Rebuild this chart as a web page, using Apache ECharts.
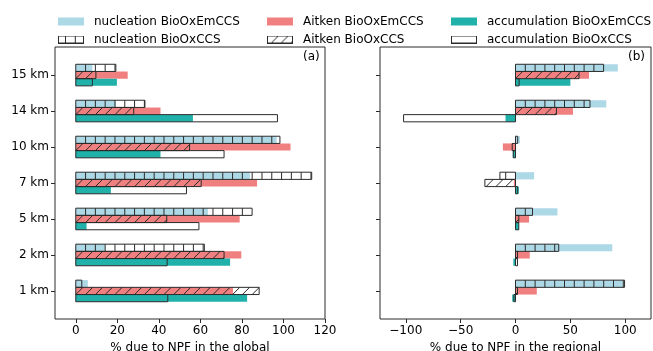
<!DOCTYPE html>
<html>
<head>
<meta charset="utf-8">
<script src="https://cdn.jsdelivr.net/npm/echarts@6/dist/echarts.min.js"></script>
<style>
html, body {margin: 0; background: #fff;}
#main {width: 653px; height: 351px;}
</style>
</head>
<body>
<div id="main"></div>
<script>
// categories, bottom to top
const altitudes = ['1 km', '2 km', '5 km', '7 km', '10 km', '14 km', '15 km'];
const kinds = ['nucleation', 'Aitken', 'accumulation'];

// (a) % due to NPF in the global
const nucEmGlobal  = [5.8, 14.0, 63.6, 83.8, 96.7, 19.3, 8.0];
const nucCcsGlobal = [2.9, 61.9, 84.9, 113.6, 98.3, 33.3, 19.3];
const aitEmGlobal  = [75.7, 79.7, 78.9, 87.3, 103.4, 40.8, 25.0];
const aitCcsGlobal = [88.3, 71.4, 43.8, 60.4, 54.8, 27.9, 9.7];
const accEmGlobal  = [82.5, 74.3, 5.2, 16.9, 40.8, 56.4, 19.8];
const accCcsGlobal = [44.3, 44.0, 59.3, 53.3, 71.4, 97.1, 8.0];

// (b) % due to NPF in the regional
const nucEmRegional  = [97.9, 88.2, 38.2, 17.0, 4.0, 82.7, 93.3];
const nucCcsRegional = [99.4, 39.4, 15.5, -14.2, 2.0, 67.9, 80.3];
const aitEmRegional  = [19.4, 13.0, 12.4, -1.5, -11.5, 52.4, 67.0];
const aitCcsRegional = [1.8, 1.8, 3.0, -27.9, -3.0, 37.3, 57.9];
const accEmRegional  = [-3.0, -2.0, 3.0, 3.0, -2.5, -9.1, 50.0];
const accCcsRegional = [-1.5, 1.8, 3.0, 2.0, -2.0, -102.0, 3.3];

const xTicksGlobal = [0, 20, 40, 60, 80, 100, 120];
const xTicksRegional = [-100, -50, 0, 50, 100];
const yTicks = [0, 1, 2, 3, 4, 5, 6];

const colors = {nucleation: '#add8e6', Aitken: '#f08080', accumulation: '#20b2aa'};
const hatches = {nucleation: 'vline', Aitken: 'slash', accumulation: 'none'};
const rowOffset = {nucleation: 0.2, Aitken: 0, accumulation: -0.2};
const barH = 0.2;
const hatchStep = 9.8;
const edge = '#2b2b2b';

function hatchLines(type, x0, xa, xb, yt, yb) {
    let out = [];
    let h = yb - yt;
    if (type === 'vline') {
        let k0 = Math.ceil((xa - x0) / hatchStep);
        for (let x = x0 + k0 * hatchStep; x < xb - 0.5; x += hatchStep) {
            if (x <= xa + 0.5) continue;
            out.push({type: 'line', shape: {x1: x, y1: yt, x2: x, y2: yb},
                style: {stroke: edge, lineWidth: 1}});
        }
    } else if (type === 'slash') {
        let k0 = Math.floor((xa - h - x0) / hatchStep);
        for (let c = x0 + k0 * hatchStep; c < xb; c += hatchStep) {
            let t0 = Math.max(0, (xa - c) / h);
            let t1 = Math.min(1, (xb - c) / h);
            if (t1 <= t0) continue;
            out.push({type: 'line', shape: {
                x1: c + t0 * h, y1: yb - t0 * h, x2: c + t1 * h, y2: yb - t1 * h},
                style: {stroke: edge, lineWidth: 1}});
        }
    }
    return out;
}

function makeRender(kind, filled) {
    return function (params, api) {
        let v = api.value(0);
        let yc = api.value(1);
        let p0 = api.coord([0, yc + barH / 2]);
        let p1 = api.coord([v, yc - barH / 2]);
        let xa = Math.min(p0[0], p1[0]), xb = Math.max(p0[0], p1[0]);
        let yt = p0[1], yb = p1[1];
        let rect = {type: 'rect', shape: {x: xa, y: yt, width: xb - xa, height: yb - yt}};
        if (filled) {
            rect.style = {fill: colors[kind]};
            return rect;
        }
        rect.style = {fill: 'none', stroke: edge, lineWidth: 1};
        let x0 = api.coord([0, 0])[0];
        return {type: 'group', children: hatchLines(hatches[kind], x0, xa, xb, yt, yb).concat([rect])};
    };
}

function hatchIcon(kind, w, h) {
    let c = document.createElement('canvas');
    c.width = w; c.height = h;
    let ctx = c.getContext('2d');
    ctx.strokeStyle = edge;
    ctx.lineWidth = 1;
    ctx.beginPath();
    if (hatches[kind] === 'vline') {
        for (let x = 7.5; x < w - 1; x += hatchStep) { ctx.moveTo(x, 0); ctx.lineTo(x, h); }
    } else if (hatches[kind] === 'slash') {
        for (let x = 2; x < w + h; x += hatchStep) { ctx.moveTo(x - h, h); ctx.lineTo(x, 0); }
    }
    ctx.stroke();
    ctx.strokeRect(0.5, 0.5, w - 1, h - 1);
    return 'image://' + c.toDataURL();
}

const panels = [
    {em: [nucEmGlobal, aitEmGlobal, accEmGlobal], ccs: [nucCcsGlobal, aitCcsGlobal, accCcsGlobal]},
    {em: [nucEmRegional, aitEmRegional, accEmRegional], ccs: [nucCcsRegional, aitCcsRegional, accCcsRegional]}
];

let series = [];
for (let filled of [true, false]) {
    panels.forEach((panel, p) => {
        kinds.forEach((kind, k) => {
            let vals = filled ? panel.em[k] : panel.ccs[k];
            series.push({
                type: 'custom',
                name: kind + (filled ? ' BioOxEmCCS' : ' BioOxCCS'),
                xAxisIndex: p,
                yAxisIndex: p,
                itemStyle: {color: filled ? colors[kind] : '#fff'},
                renderItem: makeRender(kind, filled),
                data: vals.map((v, i) => [v, i + rowOffset[kind]])
            });
        });
    });
}

const legendPos = [[58, 15.5], [267, 15.5], [451, 15.5], [58, 33.5], [267, 33.5], [451, 33.5]];
let legends = [];
[true, false].forEach((filled, r) => {
    kinds.forEach((kind, k) => {
        let pos = legendPos[r * 3 + k];
        legends.push({
            left: pos[0], top: pos[1], padding: 0,
            itemWidth: 26, itemHeight: 8,
            selectedMode: false,
            textStyle: {fontSize: 12, color: '#000', padding: [0, 0, 0, 5]},
            data: [{
                name: kind + (filled ? ' BioOxEmCCS' : ' BioOxCCS'),
                icon: filled ? 'rect' : hatchIcon(kind, 26, 8)
            }]
        });
    });
});

function minusFmt(v) {
    return v < 0 ? '\u2212' + Math.abs(v) : String(v);
}

function xAxisCfg(i, min, max, ticks, name) {
    return {
        gridIndex: i, type: 'value', min: min, max: max, position: 'bottom',
        name: name, nameLocation: 'middle', nameGap: 18,
        nameTextStyle: {fontSize: 12, color: '#000'},
        axisLine: {show: false, onZero: false},
        axisTick: {show: true, customValues: ticks, length: 4, lineStyle: {color: edge}},
        axisLabel: {customValues: ticks, formatter: minusFmt, fontSize: 12, color: '#000', margin: 6},
        splitLine: {show: false}
    };
}

function yAxisCfg(i, showLabels) {
    return {
        gridIndex: i, type: 'value', min: -0.78, max: 6.78, position: 'left',
        axisLine: {show: false, onZero: false},
        axisTick: {show: true, customValues: yTicks, length: 4, lineStyle: {color: edge}},
        axisLabel: {show: showLabels, customValues: yTicks, fontSize: 12, color: '#000', margin: 6,
            formatter: v => altitudes[Math.round(v)]},
        splitLine: {show: false}
    };
}

let chart = echarts.init(document.getElementById('main'));
chart.setOption({
    animation: false,
    textStyle: {fontFamily: 'DejaVu Sans'},
    title: [
        {text: '(a)', left: 303, top: 51, padding: 0, textStyle: {fontSize: 12, fontWeight: 'normal', color: '#000'}},
        {text: '(b)', left: 628, top: 51, padding: 0, textStyle: {fontSize: 12, fontWeight: 'normal', color: '#000'}}
    ],
    legend: legends,
    grid: [
        {left: 55, top: 47, width: 270, height: 272, show: true, borderColor: edge, borderWidth: 1,
            backgroundColor: 'transparent', outerBoundsMode: 'none', containLabel: false},
        {left: 380, top: 47, width: 271, height: 272, show: true, borderColor: edge, borderWidth: 1,
            backgroundColor: 'transparent', outerBoundsMode: 'none', containLabel: false}
    ],
    xAxis: [
        xAxisCfg(0, -10, 120, xTicksGlobal, '% due to NPF in the global'),
        xAxisCfg(1, -123.5, 123.5, xTicksRegional, '% due to NPF in the regional')
    ],
    yAxis: [yAxisCfg(0, true), yAxisCfg(1, false)],
    series: series
});
</script>
</body>
</html>
